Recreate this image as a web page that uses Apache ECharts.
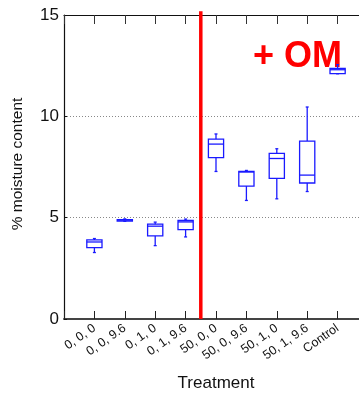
<!DOCTYPE html>
<html><head><meta charset="utf-8">
<script src="https://cdn.jsdelivr.net/npm/echarts@6/dist/echarts.min.js"></script>
<style>html,body{margin:0;padding:0;background:#fff}#c{width:359px;height:394px}</style>
</head><body><div id="c"></div>
<script>
const categories = ['0, 0, 0','0, 0, 9.6','0, 1, 0','0, 1, 9.6','50, 0, 0','50, 0, 9.6','50, 1, 0','50, 1, 9.6','Control'];
// [min, Q1, median, Q3, max]
const boxValues = [
  [3.28, 3.52, 3.80, 3.90, 3.97],
  [4.82, 4.83, 4.88, 4.90, 4.94],
  [3.62, 4.10, 4.58, 4.68, 4.78],
  [4.05, 4.41, 4.79, 4.86, 4.93],
  [7.28, 7.96, 8.63, 8.88, 9.13],
  [5.85, 6.56, 7.25, 7.28, 7.33],
  [5.93, 6.94, 7.92, 8.17, 8.40],
  [6.29, 6.71, 7.10, 8.78, 10.46],
  [12.10, 12.11, 12.30, 12.37, 12.55]
];
const yTicks = [0, 5, 10, 15];
const dividerX = 4.5;
const annotation = '+ OM';

const boxData = boxValues.map((v, i) => [i + 1].concat(v));
const font = '"Liberation Sans", Arial, sans-serif';
const chart = echarts.init(document.getElementById('c'), null, {renderer: 'canvas'});
const blue = '#1a1aff';

chart.setOption({
  animation: false,
  grid: {left: 64, top: 15, width: 304, bottom: 75, containLabel: false, outerBoundsMode: 'none'},
  xAxis: [{
    type: 'value', min: 0, max: 10, interval: 1, position: 'bottom',
    name: 'Treatment', nameLocation: 'middle', nameGap: 56,
    nameTextStyle: {fontFamily: font, fontSize: 17, color: '#111'},
    axisLine: {show: true, onZero: false, lineStyle: {color: '#444', width: 2}},
    axisTick: {show: true, inside: true, length: 8, lineStyle: {color: '#222'}},
    splitLine: {show: false},
    axisLabel: {
      rotate: 35, fontFamily: font, fontSize: 12.5, color: '#111', margin: 8,
      formatter: v => (v >= 1 && v <= categories.length && Number.isInteger(v)) ? categories[v - 1] : ''
    }
  }, {
    type: 'value', min: 0, max: 10, interval: 1, position: 'top',
    axisLine: {show: true, onZero: false, lineStyle: {color: '#111', width: 1.2}},
    axisTick: {show: true, inside: true, length: 9, lineStyle: {color: '#333'}},
    axisLabel: {show: false}, splitLine: {show: false}
  }],
  yAxis: {
    type: 'value', min: 0, max: 15, interval: 5,
    name: '% moisture content', nameLocation: 'middle', nameGap: 38,
    nameTextStyle: {fontFamily: font, fontSize: 15.5, color: '#111', padding: [0, 0, 0, 6]},
    axisLine: {show: true, lineStyle: {color: '#111', width: 1.2}},
    axisTick: {show: true, inside: true, length: 3, lineStyle: {color: '#111'}},
    axisLabel: {fontFamily: font, fontSize: 17, color: '#111', margin: 5,
      formatter: v => yTicks.includes(v) ? String(v) : ''},
    splitLine: {show: true, lineStyle: {color: '#888', type: [1, 2], width: 1}}
  },
  series: [{
    type: 'custom',
    xAxisIndex: 0,
    data: boxData,
    renderItem: function (params, api) {
      const x = api.value(0);
      const w = api.size([1, 0])[0] * 0.5;
      const hw = w / 2;
      const p = i => api.coord([x, api.value(i)]);
      const pMin = p(1), pQ1 = p(2), pMed = p(3), pQ3 = p(4), pMax = p(5);
      const cx = pMin[0];
      const st = {stroke: blue, lineWidth: 1.3, fill: null};
      const cap = 1.5;
      return {
        type: 'group',
        children: [
          {type: 'rect', shape: {x: cx - hw, y: pQ3[1], width: w, height: Math.max(pQ1[1] - pQ3[1], 1.5)}, style: {stroke: blue, lineWidth: 1.3, fill: '#fff'}},
          {type: 'line', shape: {x1: cx - hw, y1: pMed[1], x2: cx + hw, y2: pMed[1]}, style: st},
          {type: 'line', shape: {x1: cx, y1: pQ3[1], x2: cx, y2: pMax[1]}, style: st},
          {type: 'line', shape: {x1: cx, y1: pQ1[1], x2: cx, y2: pMin[1]}, style: st},
          {type: 'line', shape: {x1: cx - cap, y1: pMax[1], x2: cx + cap, y2: pMax[1]}, style: st},
          {type: 'line', shape: {x1: cx - cap, y1: pMin[1], x2: cx + cap, y2: pMin[1]}, style: st}
        ]
      };
    }
  }, {
    type: 'line', xAxisIndex: 0, clip: false, symbol: 'none', silent: true,
    data: [[dividerX, 0], [dividerX, 15.18]],
    lineStyle: {color: '#ff0000', width: 3.5}
  }],
  graphic: [{
    type: 'text', left: 253, top: 39,
    style: {text: annotation, font: 'bold 36px ' + font, fill: '#ff0000'}
  }]
});
</script></body></html>
